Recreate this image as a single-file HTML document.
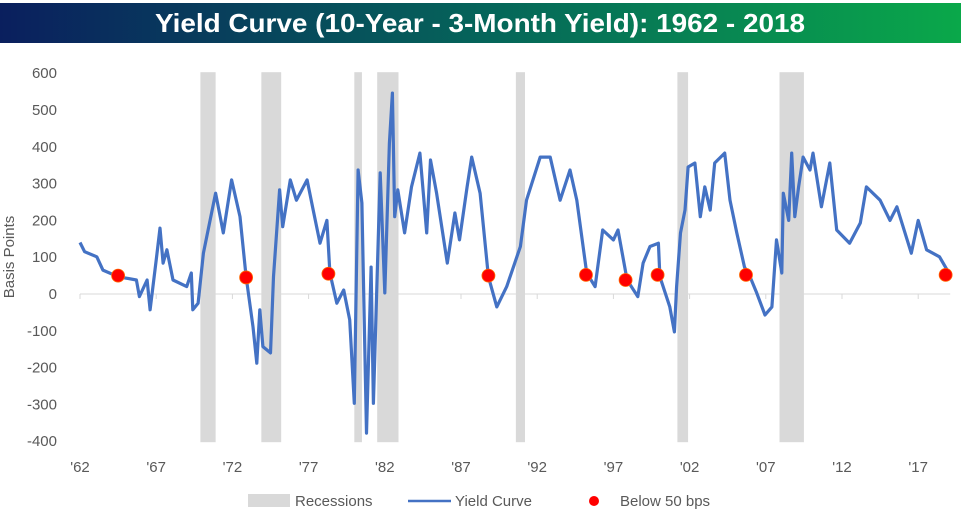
<!DOCTYPE html>
<html><head><meta charset="utf-8"><style>
body{margin:0;background:#fff;width:961px;height:516px;overflow:hidden;font-family:"Liberation Sans",sans-serif}
</style></head><body>
<svg id="chart" width="961" height="516" xmlns="http://www.w3.org/2000/svg">
<defs><linearGradient id="tg" x1="0" x2="1"><stop offset="0" stop-color="#0a1f5e"/><stop offset="0.5" stop-color="#05645a"/><stop offset="1" stop-color="#0aa84a"/></linearGradient></defs>
<rect x="0" y="3" width="961" height="40" fill="url(#tg)"/>
<text x="480" y="32" text-anchor="middle" fill="#fff" font-size="26" font-weight="bold" font-family="'Liberation Sans Narrow','Liberation Sans',sans-serif" textLength="650" lengthAdjust="spacingAndGlyphs">Yield Curve (10-Year - 3-Month Yield): 1962 - 2018</text>
<g id="rec"></g><g id="axes"></g><g id="series"></g><g id="dots"></g>
<text transform="translate(14,257) rotate(-90)" text-anchor="middle" font-size="15" fill="#595959">Basis Points</text>
<g>
<rect x="248" y="494" width="42" height="13" fill="#d9d9d9"/>
<text x="295" y="506" font-size="15" fill="#595959">Recessions</text>
<line x1="408" y1="501" x2="451" y2="501" stroke="#4472c4" stroke-width="2.5"/>
<text x="455" y="506" font-size="15" fill="#595959">Yield Curve</text>
<circle cx="594" cy="501" r="5" fill="#ff0000"/>
<text x="620" y="506" font-size="15" fill="#595959">Below 50 bps</text>
</g>
</svg>
<script>
const yTicks=[600,500,400,300,200,100,0,-100,-200,-300,-400];
const xTickYears=[1962,1967,1972,1977,1982,1987,1992,1997,2002,2007,2012,2017];
const xTickLabels=["'62","'67","'72","'77","'82","'87","'92","'97","'02","'07","'12","'17"];
const recStart=[1969.9,1973.9,1980.0,1981.5,1990.6,2001.2,2007.9];
const recEnd=[1970.9,1975.2,1980.5,1982.9,1991.2,2001.9,2009.5];
const lineYears=[1962.0,1962.3,1963.1,1963.5,1964.5,1965.7,1965.9,1966.4,1966.6,1967.0,1967.25,1967.45,1967.7,1968.1,1969.0,1969.3,1969.4,1969.75,1970.1,1970.9,1971.2,1971.4,1971.95,1972.5,1972.9,1973.35,1973.6,1973.8,1974.0,1974.5,1974.7,1975.1,1975.3,1975.8,1976.2,1976.9,1977.3,1977.75,1978.2,1978.4,1978.85,1979.3,1979.7,1980.0,1980.25,1980.5,1980.8,1981.1,1981.25,1981.7,1982.0,1982.3,1982.5,1982.65,1982.85,1983.3,1983.75,1984.3,1984.75,1985.0,1985.4,1986.1,1986.6,1986.9,1987.4,1987.7,1988.25,1988.8,1989.35,1990.0,1990.9,1991.3,1992.2,1992.85,1993.5,1994.15,1994.6,1995.25,1995.8,1996.3,1997.0,1997.3,1997.9,1998.6,1998.95,1999.4,1999.95,2000.05,2000.7,2001.0,2001.15,2001.4,2001.7,2001.9,2002.35,2002.7,2003.0,2003.35,2003.65,2004.3,2004.65,2005.1,2005.6,2005.96,2006.4,2006.95,2007.4,2007.7,2008.05,2008.15,2008.5,2008.7,2008.9,2009.15,2009.45,2009.9,2010.1,2010.65,2011.2,2011.65,2012.5,2013.2,2013.6,2014.5,2015.15,2015.6,2016.55,2017.0,2017.55,2018.4,2018.9];
const lineValues=[140,115,101,65,47,38,-7,38,-43,92,179,84,120,38,20,57,-43,-25,111,274,210,166,310,210,47,-89,-188,-43,-143,-160,47,283,183,310,255,310,228,138,200,57,-25,11,-70,-297,337,247,-378,73,-297,329,3,410,546,210,283,166,291,383,166,364,274,84,220,147,291,372,274,47,-35,20,129,255,372,372,255,337,255,57,20,174,147,174,38,-7,84,129,138,47,-35,-103,20,166,228,345,356,210,291,228,356,383,255,166,73,47,3,-57,-35,147,57,274,200,383,210,291,372,337,383,237,356,174,138,193,291,255,200,237,111,200,120,101,65];
const dotYears=[1964.5,1972.9,1978.3,1988.8,1995.2,1997.8,1999.9,2005.7,2018.8];
const dotValues=[50,45,55,50,52,38,52,52,52];
const NS='http://www.w3.org/2000/svg';
function X(yr){return 80+(yr-1962)*15.24;}
function Y(v){return 294-v*0.368;}
function mk(tag,attrs,parent){const e=document.createElementNS(NS,tag);for(const k in attrs)e.setAttribute(k,attrs[k]);document.getElementById(parent).appendChild(e);return e;}
for(let i=0;i<recStart.length;i++){
 const r=mk('rect',{x:X(recStart[i]),y:Y(600)-1,width:X(recEnd[i])-X(recStart[i]),height:Y(-400)-Y(600)+2,fill:'#d9d9d9'},'rec');
 
 
}
yTicks.forEach(v=>{
 const t=mk('text',{x:57,y:Y(v)+5,'text-anchor':'end','font-size':15,fill:'#595959'},'axes');t.textContent=v;
 
 
});
const ax=mk('line',{x1:X(1962),x2:X(2019.1),y1:Y(0),y2:Y(0),stroke:'#d9d9d9','stroke-width':1},'axes');


xTickYears.forEach((yr,i)=>{
 const tk=mk('line',{x1:X(yr),x2:X(yr),y1:Y(0),y2:Y(0)+5,stroke:'#d9d9d9'},'axes');
 
 
 const t=mk('text',{x:X(yr),y:472,'text-anchor':'middle','font-size':15,fill:'#595959'},'axes');t.textContent=xTickLabels[i];
 
 
});
const pts=lineYears.map((yr,i)=>X(yr).toFixed(1)+','+Y(lineValues[i]).toFixed(1)).join(' ');
const pl=mk('polyline',{points:pts,fill:'none',stroke:'#4472c4','stroke-width':3.2,'stroke-linejoin':'round'},'series');


dotYears.forEach((yr,i)=>{
 const c=mk('circle',{cx:X(yr),cy:Y(dotValues[i]),r:6.5,fill:'#ff0000',stroke:'#ff6600','stroke-width':0.8},'dots');
 
 
});
</script>
</body></html>
